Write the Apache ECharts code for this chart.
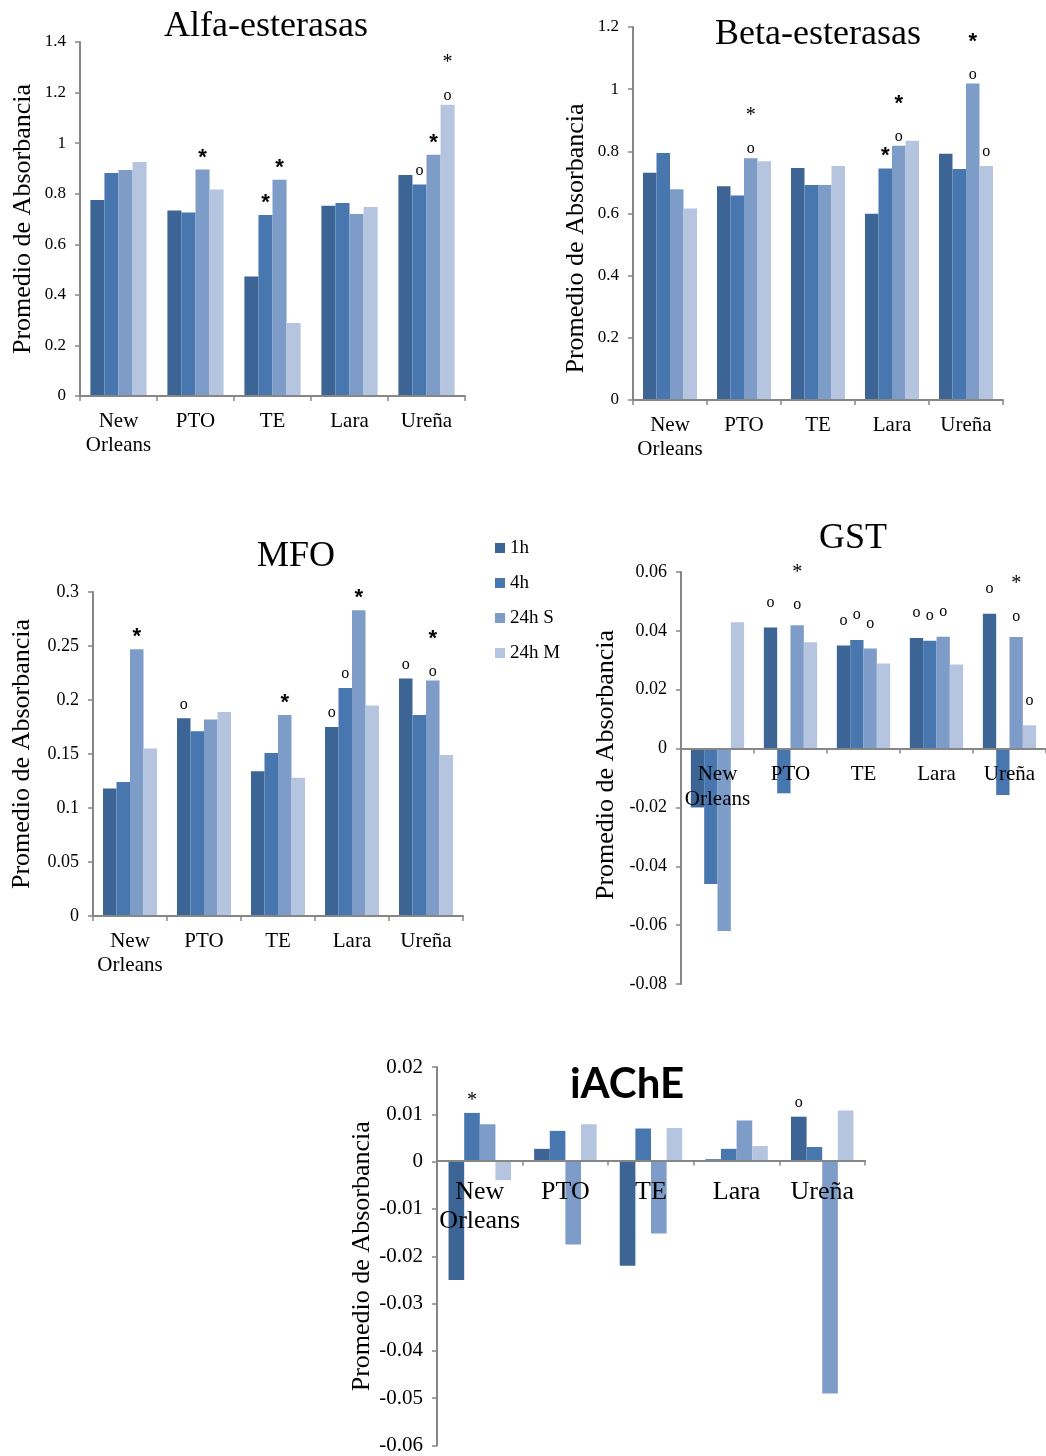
<!DOCTYPE html>
<html>
<head>
<meta charset="utf-8">
<script src="https://cdn.jsdelivr.net/npm/echarts@6/dist/echarts.min.js"></script>
<style>
  html, body { margin: 0; padding: 0; background: #fff; }
  #chart { width: 1046px; height: 1456px; }
</style>
</head>
<body>
<div id="chart"></div>
<script>
// Sites and exposure times shared by every panel
const sites = ['New\nOrleans', 'PTO', 'TE', 'Lara', 'Ureña'];
const times = ['1h', '4h', '24h S', '24h M'];

// Alfa-esterasas (one array per exposure time, in site order)
const alfa1h  = [0.775, 0.734, 0.473, 0.752, 0.874];
const alfa4h  = [0.882, 0.726, 0.716, 0.763, 0.836];
const alfa24S = [0.894, 0.896, 0.855, 0.720, 0.954];
const alfa24M = [0.925, 0.817, 0.289, 0.747, 1.152];

// Beta-esterasas
const beta1h  = [0.731, 0.688, 0.746, 0.599, 0.792];
const beta4h  = [0.795, 0.658, 0.692, 0.745, 0.743];
const beta24S = [0.678, 0.778, 0.692, 0.818, 1.018];
const beta24M = [0.616, 0.768, 0.753, 0.834, 0.753];

// MFO
const mfo1h  = [0.118, 0.183, 0.134, 0.175, 0.220];
const mfo4h  = [0.124, 0.171, 0.151, 0.211, 0.186];
const mfo24S = [0.247, 0.182, 0.186, 0.283, 0.218];
const mfo24M = [0.155, 0.189, 0.128, 0.195, 0.149];

// GST
const gst1h  = [-0.020, 0.0411, 0.0350, 0.0376, 0.0458];
const gst4h  = [-0.046, -0.0152, 0.0369, 0.0366, -0.0158];
const gst24S = [-0.062, 0.0419, 0.0340, 0.0380, 0.0379];
const gst24M = [0.0429, 0.0361, 0.0289, 0.0286, 0.0079];

// iAChE
const ache1h  = [-0.0250, 0.0027, -0.0220, 0.0005, 0.0095];
const ache4h  = [0.0103, 0.0065, 0.0070, 0.0027, 0.0031];
const ache24S = [0.0079, -0.0175, -0.0152, 0.0087, -0.0490];
const ache24M = [-0.0039, 0.0079, 0.0071, 0.0033, 0.0108];

// Significance marks per site and time: '*' bold asterisk, '∗' plain asterisk,
// 'o' circle; a two-character mark is stacked top to bottom
const alfaMarks = [
  ['', '', '', ''],
  ['', '', '*', ''],
  ['', '*', '*', ''],
  ['', '', '', ''],
  ['', 'o', '*', '∗o']
];
const betaMarks = [
  ['', '', '', ''],
  ['', '', '∗o', ''],
  ['', '', '', ''],
  ['', '*', '*o', ''],
  ['', '', '*o', 'o']
];
const mfoMarks = [
  ['', '', '*', ''],
  ['o', '', '', ''],
  ['', '', '*', ''],
  ['o', 'o', '*', ''],
  ['o', '', '*o', '']
];
const gstMarks = [
  ['', '', '', ''],
  ['o', '', '∗o', ''],
  ['o', 'o', 'o', ''],
  ['o', 'o', 'o', ''],
  ['o', '', '∗o', 'o']
];
const acheMarks = [
  ['', '∗', '', ''],
  ['', '', '', ''],
  ['', '', '', ''],
  ['', '', '', ''],
  ['o', '', '', '']
];

// Y-axis scales
const alfaScale = { min: 0, max: 1.4, interval: 0.2 };
const betaScale = { min: 0, max: 1.2, interval: 0.2 };
const mfoScale  = { min: 0, max: 0.3, interval: 0.05 };
const gstScale  = { min: -0.08, max: 0.06, interval: 0.02 };
const acheScale = { min: -0.06, max: 0.02, interval: 0.01 };

const palette = ['#3c6494', '#4877b0', '#7e9cc8', '#b6c5df'];
const axisGray = '#868686';
const serif = 'Liberation Serif';

const panels = [
  { title: 'Alfa-esterasas', series: [alfa1h, alfa4h, alfa24S, alfa24M], marks: alfaMarks, scale: alfaScale,
    grid: { left: 80, top: 42, width: 385, height: 354 },
    titlePos: { left: 266, top: 9 }, nameGap: 44, namePad: [0, 0, 0, 0],
    tickFont: 17, catFont: 21, catLine: 24, catMargin: 13, markDist: 2 },
  { title: 'Beta-esterasas', series: [beta1h, beta4h, beta24S, beta24M], marks: betaMarks, scale: betaScale,
    grid: { left: 633, top: 27, width: 370, height: 373 },
    titlePos: { left: 818, top: 17 }, nameGap: 44, namePad: [0, 50, 0, 0],
    tickFont: 17, catFont: 21, catLine: 24, catMargin: 13, markDist: 2 },
  { title: 'MFO', series: [mfo1h, mfo4h, mfo24S, mfo24M], marks: mfoMarks, scale: mfoScale,
    grid: { left: 93, top: 592, width: 370, height: 324 },
    titlePos: { left: 296, top: 539 }, nameGap: 58, namePad: [0, 0, 0, 0],
    tickFont: 18, catFont: 21, catLine: 24, catMargin: 13, markDist: 2 },
  { title: 'GST', series: [gst1h, gst4h, gst24S, gst24M], marks: gstMarks, scale: gstScale,
    grid: { left: 681, top: 572, width: 365, height: 412 },
    titlePos: { left: 853, top: 521 }, nameGap: 62, namePad: [0, 0, 0, 26],
    tickFont: 18, catFont: 21, catLine: 25, catMargin: 13, markDist: 13 },
  { title: 'iAChE', series: [ache1h, ache4h, ache24S, ache24M], marks: acheMarks, scale: acheScale,
    grid: { left: 437, top: 1067, width: 428, height: 380 },
    titlePos: { left: 627, top: 1063 }, nameGap: 58, namePad: [0, 0, 0, 0],
    tickFont: 21, catFont: 26, catLine: 29, catMargin: 17, markDist: 2, sansTitle: true }
];

// Rich-text styles used by the significance marks
const markRich = {
  b:  { fontFamily: 'Liberation Sans', fontWeight: 'bold', fontSize: 22, lineHeight: 20, color: '#000' },
  l:  { fontFamily: serif, fontSize: 20, lineHeight: 20, color: '#000' },
  o:  { fontFamily: serif, fontSize: 16, lineHeight: 24, color: '#000' },
  o2: { fontFamily: serif, fontSize: 16, lineHeight: 30, color: '#000', padding: [16, 0, 0, 0] }
};

function markText(m) {
  const parts = [];
  for (let i = 0; i < m.length; i++) {
    const c = m[i];
    if (c === '*') parts.push('{b|*}');
    else if (c === '∗') parts.push('{l|*}');
    else if (c === 'o') parts.push(i > 0 ? '{o2|o}' : '{o|o}');
  }
  return parts.join('\n');
}

// Category axis sits on the zero line: shift it up from the grid bottom
// by the share of the value range lying below zero
function zeroOffset(p) {
  const below = Math.max(0, -p.scale.min) / (p.scale.max - p.scale.min);
  return -p.grid.height * below;
}

const option = {
  animation: false,
  backgroundColor: '#fff',
  title: panels.map(p => ({
    text: p.title,
    left: p.titlePos.left,
    top: p.titlePos.top,
    padding: 0,
    textAlign: 'center',
    textStyle: p.sansTitle
      ? { fontFamily: 'Lato', fontWeight: 'bold', fontSize: 42, color: '#000' }
      : { fontFamily: serif, fontWeight: 'normal', fontSize: 36, color: '#000' }
  })),
  legend: {
    data: times,
    orient: 'vertical',
    left: 490,
    top: 533,
    icon: 'rect',
    itemWidth: 10,
    itemHeight: 10,
    itemGap: 15,
    selectedMode: false,
    textStyle: { fontFamily: serif, fontSize: 19, color: '#000', lineHeight: 20 }
  },
  grid: panels.map(p => Object.assign({ containLabel: false }, p.grid)),
  xAxis: panels.map((p, i) => ({
    type: 'category',
    gridIndex: i,
    data: sites,
    position: 'bottom',
    offset: zeroOffset(p),
    z: 5,
    axisLine: { onZero: false, lineStyle: { color: axisGray, width: 2 } },
    axisTick: { show: true, length: 5, lineStyle: { color: axisGray, width: 1.5 } },
    axisLabel: { interval: 0, fontFamily: serif, fontSize: p.catFont, lineHeight: p.catLine,
                 color: '#000', margin: p.catMargin }
  })),
  yAxis: panels.map((p, i) => ({
    type: 'value',
    gridIndex: i,
    min: p.scale.min,
    max: p.scale.max,
    interval: p.scale.interval,
    splitLine: { show: false },
    axisLine: { show: true, lineStyle: { color: axisGray, width: 2 } },
    axisTick: { show: true, length: 5, lineStyle: { color: axisGray, width: 1.5 } },
    axisLabel: { fontFamily: serif, fontSize: p.tickFont, color: '#000', margin: 14 },
    name: 'Promedio de Absorbancia',
    nameLocation: 'middle',
    nameGap: p.nameGap,
    nameTextStyle: { fontFamily: serif, fontSize: 26, color: '#000', padding: p.namePad }
  })),
  series: []
};

panels.forEach((p, pi) => {
  p.series.forEach((vals, ti) => {
    option.series.push({
      type: 'bar',
      name: times[ti],
      xAxisIndex: pi,
      yAxisIndex: pi,
      barGap: '0%',
      barCategoryGap: '27%',
      itemStyle: { color: palette[ti] },
      data: vals.map((v, si) => {
        const m = p.marks[si][ti];
        if (!m) return v;
        return {
          value: v,
          label: {
            show: true,
            position: 'top',
            distance: p.markDist,
            formatter: markText(m),
            rich: markRich
          }
        };
      })
    });
  });
});

const chart = echarts.init(document.getElementById('chart'), null, { renderer: 'canvas' });
chart.setOption(option);
</script>
</body>
</html>
